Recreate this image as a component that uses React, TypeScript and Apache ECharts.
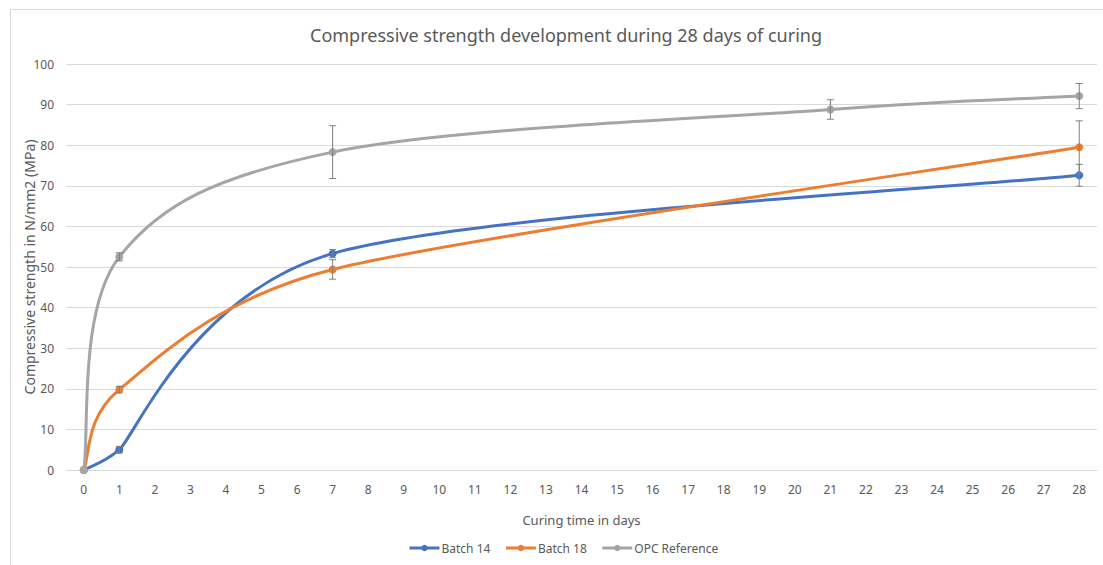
import React, { useEffect, useRef } from "react";
import * as echarts from "echarts";

const dayLabels = ["0","1","2","3","4","5","6","7","8","9","10","11","12","13","14","15","16","17","18","19","20","21","22","23","24","25","26","27","28"];

const batch14Days = [0, 1, 7, 28];
const batch14Values = [0, 5.0, 53.3, 72.6];
const batch14Err = [0, 0.8, 1.0, 2.7];

const batch18Days = [0, 1, 7, 28];
const batch18Values = [0, 19.8, 49.4, 79.5];
const batch18Err = [0, 0.8, 2.4, 6.5];

const opcDays = [0, 1, 7, 21, 28];
const opcValues = [0, 52.5, 78.3, 88.8, 92.1];
const opcErr = [0, 1.0, 6.5, 2.4, 3.1];

const yTicks = { min: 0, max: 100, interval: 10 };

const FONT = "Noto Sans";
const LABEL = "#595959";

function pts(days: number[], vals: number[]) {
  return days.map((d, i) => [d, vals[i]]);
}
function errs(days: number[], vals: number[], e: number[]) {
  return days
    .map((d, i) => [d, vals[i] - e[i], vals[i] + e[i]])
    .filter((_, i) => e[i] > 0);
}

function errorSeries(name: string, data: number[][]) {
  return {
    type: "custom",
    name: name + " err",
    data,
    z: 5,
    silent: true,
    renderItem: (params: any, api: any) => {
      const x = api.value(0);
      const lo = api.coord([x, api.value(1)]);
      const hi = api.coord([x, api.value(2)]);
      const w = 3.5;
      const style = { stroke: "#808080", lineWidth: 1 };
      return {
        type: "group",
        children: [
          { type: "line", shape: { x1: lo[0], y1: lo[1], x2: hi[0], y2: hi[1] }, style },
          { type: "line", shape: { x1: lo[0] - w, y1: lo[1], x2: lo[0] + w, y2: lo[1] }, style },
          { type: "line", shape: { x1: hi[0] - w, y1: hi[1], x2: hi[0] + w, y2: hi[1] }, style },
        ],
      };
    },
  };
}

// Excel-like smoothed curve: Bezier segments, tangents (next - prev) / 6,
// shortened when they exceed half of an adjacent segment.
function curveSeries(name: string, days: number[], vals: number[], color: string) {
  const n = days.length;
  return {
    type: "custom",
    name: name + " curve",
    data: days.slice(0, n - 1).map((d, i) => [d, vals[i]]),
    z: 2,
    silent: true,
    renderItem: (params: any, api: any) => {
      const i = params.dataIndex;
      const P = (k: number) => {
        const j = Math.max(0, Math.min(n - 1, k));
        return api.coord([days[j], vals[j]]);
      };
      const dist = (a: number[], b: number[]) => Math.hypot(b[0] - a[0], b[1] - a[1]);
      const arm = (prev: number[], cur: number[], next: number[]) => {
        const vx = next[0] - prev[0];
        const vy = next[1] - prev[1];
        const len = Math.hypot(vx, vy);
        if (len === 0) return [0, 0];
        let a = len / 6;
        const dp = dist(prev, cur);
        const dn = dist(cur, next);
        const cap = 0.5 * Math.min(dp > 0 ? dp : Infinity, dn > 0 ? dn : Infinity);
        if (a > cap) a = cap;
        return [(vx / len) * a, (vy / len) * a];
      };
      const p0 = P(i - 1), p1 = P(i), p2 = P(i + 1), p3 = P(i + 2);
      const t1 = arm(p0, p1, p2);
      const t2 = arm(p1, p2, p3);
      return {
        type: "bezierCurve",
        shape: {
          x1: p1[0], y1: p1[1],
          cpx1: p1[0] + t1[0], cpy1: p1[1] + t1[1],
          cpx2: p2[0] - t2[0], cpy2: p2[1] - t2[1],
          x2: p2[0], y2: p2[1],
        },
        style: { stroke: color, lineWidth: 3, fill: "none", lineCap: "round" },
      };
    },
  };
}

function markerSeries(name: string, data: number[][], color: string) {
  return {
    type: "line",
    name,
    data,
    symbol: "circle",
    symbolSize: 8,
    z: 3,
    lineStyle: { color, width: 3, opacity: 0 },
    itemStyle: { color },
  };
}

export default function App() {
  const ref = useRef<HTMLDivElement>(null);
  useEffect(() => {
    document.body.style.margin = "0";
    const chart = echarts.init(ref.current!, null, { renderer: "svg" });
    chart.setOption({
      animation: false,
      backgroundColor: "#ffffff",
      textStyle: { fontFamily: FONT },
      title: {
        text: "Compressive strength development during 28 days of curing",
        left: 305,
        top: 21,
        textStyle: { fontFamily: FONT, fontSize: 18, fontWeight: "normal", color: LABEL },
      },
      graphic: [
        {
          type: "rect",
          shape: { x: 10.5, y: 9.5, width: 1200, height: 700 },
          style: { fill: "none", stroke: "#d9d9d9", lineWidth: 1 },
          silent: true,
        },
      ],
      legend: {
        bottom: 6,
        left: 403,
        itemWidth: 30,
        itemHeight: 8,
        itemGap: 14,
        data: ["Batch 14", "Batch 18", "OPC Reference"],
        lineStyle: { opacity: 1, width: 3 },
        textStyle: { fontFamily: FONT, fontSize: 12, color: LABEL, padding: [0, 0, 0, -3] },
      },
      grid: { left: 66, right: 6, top: 64, bottom: 95 },
      xAxis: {
        type: "category",
        data: dayLabels,
        boundaryGap: true,
        name: "Curing time in days",
        nameLocation: "middle",
        nameGap: 43,
        nameTextStyle: { fontFamily: FONT, fontSize: 13, color: LABEL },
        axisLine: { lineStyle: { color: "#d9d9d9", width: 1 } },
        axisTick: { show: false },
        axisLabel: { color: LABEL, fontSize: 12, margin: 13, interval: 0, fontFamily: FONT },
        splitLine: { show: false },
      },
      yAxis: {
        type: "value",
        min: yTicks.min,
        max: yTicks.max,
        interval: yTicks.interval,
        name: "Compressive strength in N/mm2 (MPa)",
        nameLocation: "middle",
        nameGap: 30,
        nameMoveOverlap: false,
        nameRotate: 90,
        nameTextStyle: { fontFamily: FONT, fontSize: 14, color: LABEL },
        axisLine: { show: false },
        axisTick: { show: false },
        axisLabel: { color: LABEL, fontSize: 12, margin: 12, fontFamily: FONT },
        splitLine: { lineStyle: { color: "#d9d9d9", width: 1 } },
      },
      series: [
        curveSeries("Batch 14", batch14Days, batch14Values, "#4472C4"),
        curveSeries("Batch 18", batch18Days, batch18Values, "#ED7D31"),
        curveSeries("OPC Reference", opcDays, opcValues, "#A5A5A5"),
        markerSeries("Batch 14", pts(batch14Days, batch14Values), "#4472C4"),
        markerSeries("Batch 18", pts(batch18Days, batch18Values), "#ED7D31"),
        markerSeries("OPC Reference", pts(opcDays, opcValues), "#A5A5A5"),
        errorSeries("Batch 14", errs(batch14Days, batch14Values, batch14Err)),
        errorSeries("Batch 18", errs(batch18Days, batch18Values, batch18Err)),
        errorSeries("OPC Reference", errs(opcDays, opcValues, opcErr)),
      ],
    });
    return () => chart.dispose();
  }, []);
  return <div ref={ref} style={{ width: 1103, height: 565 }} />;
}
